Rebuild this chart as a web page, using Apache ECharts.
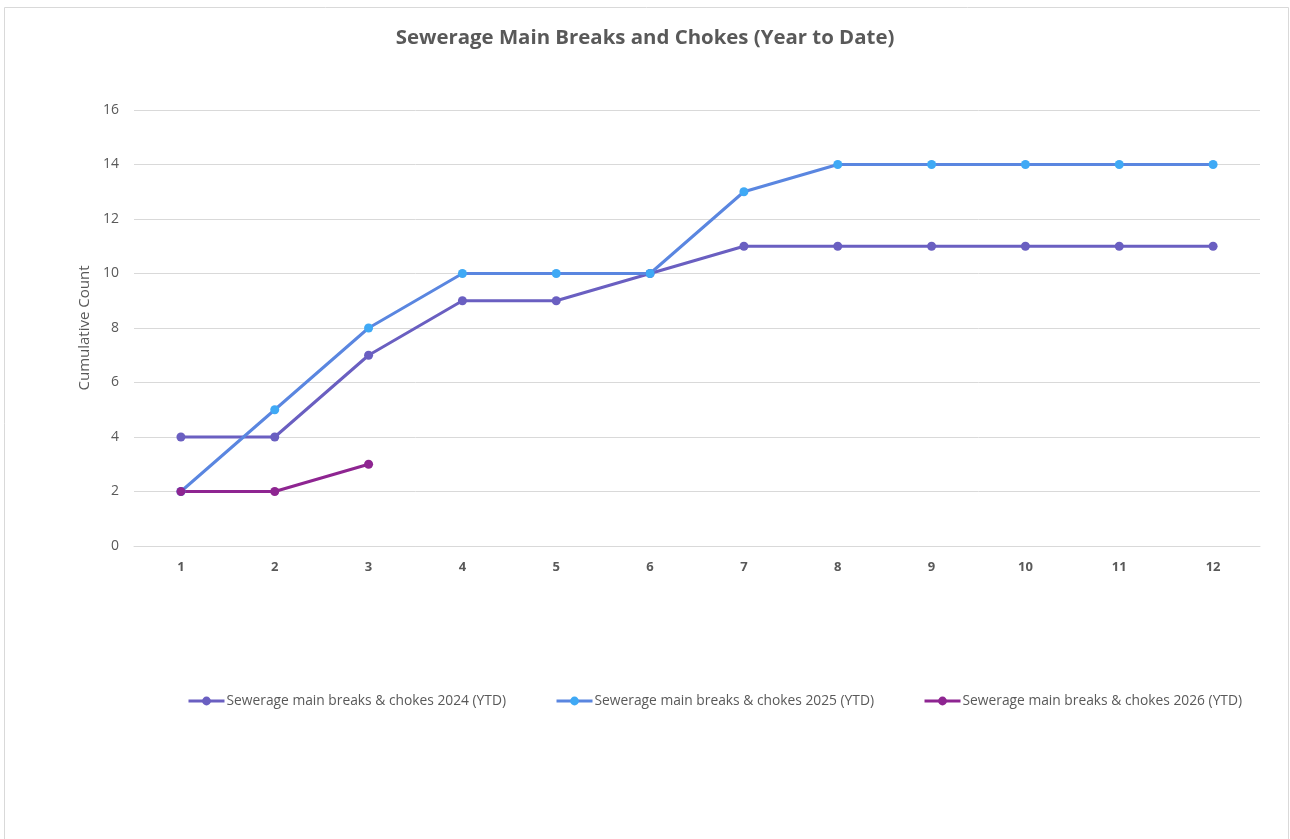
<!DOCTYPE html>
<html><head><meta charset="utf-8">
<script src="https://cdn.jsdelivr.net/npm/echarts@6/dist/echarts.min.js"></script>
<style>html,body{margin:0;padding:0;background:#fff}#c{width:1290px;height:839px}</style>
</head><body><div id="c"></div>
<script>
const categories = ['1','2','3','4','5','6','7','8','9','10','11','12'];
const s2024 = [4,4,7,9,9,10,11,11,11,11,11,11];
const s2025 = [2,5,8,10,10,10,13,14,14,14,14,14];
const s2026 = [2,2,3];
const seriesNames = ['Sewerage main breaks & chokes 2024 (YTD)','Sewerage main breaks & chokes 2025 (YTD)','Sewerage main breaks & chokes 2026 (YTD)'];
const FONT = '"Open Sans", "Noto Sans", sans-serif';
const chart = echarts.init(document.getElementById('c'), null, {renderer:'canvas'});
function mk(name, data, lineColor, markColor){
  return {name, type:'line', data, symbol:'circle', symbolSize:9,
    lineStyle:{width:3, color:lineColor}, itemStyle:{color:markColor, borderWidth:0},
    emphasis:{disabled:true}, animation:false};
}
chart.setOption({
  animation:false,
  textStyle:{fontFamily:FONT},
  title:{text:'Sewerage Main Breaks and Chokes (Year to Date)', left:'center', top:23,
    textStyle:{fontSize:20.4, fontWeight:'bold', color:'#595959', fontFamily:FONT}},
  graphic:[{type:'rect', shape:{x:4.5,y:7.5,width:1284,height:840}, style:{fill:'none', stroke:'#d9d9d9', lineWidth:1}, silent:true}],
  legend:{top:694, left:187, padding:0, itemGap:49, itemWidth:36, itemHeight:11,
    lineStyle:{width:3}, itemStyle:{borderWidth:0},
    textStyle:{fontSize:13.8, color:'#595959', fontFamily:FONT, padding:[0,0,0,-3]},
    data: seriesNames},
  grid:{left:134, right:30, top:110, bottom:293, containLabel:false},
  xAxis:{type:'category', data:categories, boundaryGap:true,
    axisLine:{show:true, lineStyle:{color:'#d9d9d9'}}, axisTick:{show:false},
    axisLabel:{fontSize:13, fontWeight:'bold', color:'#595959', margin:15, fontFamily:FONT}},
  yAxis:{type:'value', min:0, max:16, interval:2, name:'Cumulative Count', nameLocation:'middle', nameGap:38,
    nameTextStyle:{fontSize:15, color:'#595959', fontFamily:FONT},
    axisLine:{show:false}, axisTick:{show:false},
    axisLabel:{fontSize:14, color:'#595959', margin:15, fontFamily:FONT},
    splitLine:{lineStyle:{color:'#d9d9d9', width:1}}},
  series:[
    mk(seriesNames[0], s2024, '#6a5fc1', '#6a5fc1'),
    mk(seriesNames[1], s2025, '#5a86e0', '#3fa9f5'),
    mk(seriesNames[2], s2026, '#8e2591', '#8e2591')
  ]
});
</script></body></html>
